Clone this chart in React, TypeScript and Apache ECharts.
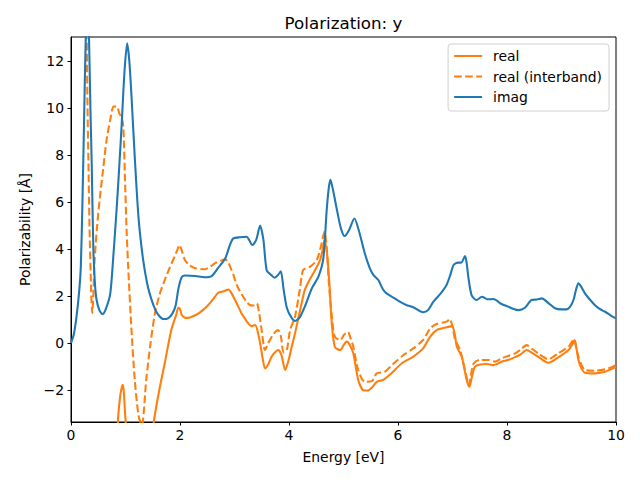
import React, { useEffect, useRef } from "react";
import * as echarts from "echarts";

const TITLE = "Polarization: y";
const X_NAME = "Energy [eV]";
const Y_NAME = "Polarizability [Å]";
const SERIES_NAMES = ["real", "real (interband)", "imag"];
const X_TICKS = [0, 2, 4, 6, 8, 10];
const Y_TICKS = [-2, 0, 2, 4, 6, 8, 10, 12];

const IMAG_E = [0, 0.05, 0.1, 0.15, 0.18, 0.21, 0.24, 0.26, 0.28, 0.3, 0.32, 0.34, 0.36, 0.38, 0.41, 0.44, 0.47, 0.52, 0.58, 0.64, 0.72, 0.78, 0.84, 0.88, 0.93, 0.98, 1.03, 1.07, 1.11, 1.17, 1.24, 1.32, 1.4, 1.47, 1.55, 1.62, 1.69, 1.78, 1.86, 1.92, 1.97, 2.03, 2.1, 2.28, 2.45, 2.58, 2.7, 2.83, 2.92, 2.98, 3.1, 3.22, 3.33, 3.4, 3.47, 3.53, 3.59, 3.67, 3.74, 3.8, 3.85, 3.9, 3.96, 4.04, 4.11, 4.2, 4.29, 4.42, 4.54, 4.63, 4.69, 4.73, 4.76, 4.8, 4.88, 4.95, 5.02, 5.1, 5.2, 5.28, 5.39, 5.48, 5.55, 5.64, 5.72, 5.79, 5.94, 6.04, 6.15, 6.28, 6.46, 6.55, 6.65, 6.78, 6.89, 6.96, 7.02, 7.1, 7.16, 7.23, 7.26, 7.29, 7.35, 7.44, 7.54, 7.64, 7.75, 7.9, 8.02, 8.12, 8.21, 8.33, 8.45, 8.55, 8.64, 8.76, 8.88, 9.0, 9.09, 9.16, 9.22, 9.27, 9.31, 9.36, 9.43, 9.52, 9.61, 9.7, 9.8, 9.9, 10.0];
const IMAG_V = [0, 0.35, 1.1, 2.2, 3.25, 6.0, 9.5, 11.9, 13.8, 15, 14, 11.9, 9.6, 7.66, 4.0, 2.5, 1.83, 1.4, 1.23, 1.45, 2.1, 3.8, 5.8, 7.3, 9.3, 11.5, 12.75, 12.0, 10.5, 7.9, 5.3, 3.6, 2.5, 1.9, 1.4, 1.15, 1.02, 1.05, 1.25, 1.6, 2.3, 2.8, 2.87, 2.85, 2.8, 2.85, 3.2, 3.6, 4.2, 4.45, 4.5, 4.52, 4.17, 4.4, 5.0, 4.4, 3.1, 2.9, 2.78, 2.9, 3.05, 2.3, 1.5, 1.1, 0.94, 1.1, 1.55, 2.33, 2.82, 3.6, 5.6, 6.6, 6.95, 6.6, 5.66, 4.9, 4.55, 4.8, 5.3, 4.8, 3.82, 3.2, 2.89, 2.68, 2.3, 2.11, 1.9, 1.75, 1.62, 1.52, 1.31, 1.4, 1.76, 2.1, 2.47, 2.9, 3.32, 3.42, 3.42, 3.7, 3.4, 2.82, 2.04, 1.83, 1.97, 1.86, 1.87, 1.66, 1.55, 1.45, 1.4, 1.5, 1.83, 1.85, 1.9, 1.7, 1.48, 1.43, 1.43, 1.55, 1.83, 2.3, 2.54, 2.4, 2.11, 1.85, 1.62, 1.45, 1.33, 1.18, 1.05];

const REAL_E = [0.8, 0.86, 0.9, 0.93, 0.95, 0.97, 0.99, 1.01, 1.05, 1.2, 1.4, 1.52, 1.62, 1.72, 1.84, 1.93, 1.97, 2.0, 2.03, 2.09, 2.15, 2.25, 2.34, 2.43, 2.52, 2.62, 2.7, 2.8, 2.89, 2.95, 3.01, 3.07, 3.13, 3.19, 3.25, 3.31, 3.38, 3.43, 3.47, 3.52, 3.56, 3.62, 3.68, 3.74, 3.8, 3.86, 3.93, 3.99, 4.05, 4.11, 4.2, 4.29, 4.38, 4.48, 4.57, 4.62, 4.65, 4.68, 4.71, 4.75, 4.78, 4.84, 4.94, 5.0, 5.06, 5.12, 5.18, 5.27, 5.36, 5.45, 5.52, 5.61, 5.73, 5.88, 6.07, 6.28, 6.46, 6.59, 6.71, 6.89, 6.99, 7.04, 7.08, 7.17, 7.26, 7.31, 7.36, 7.41, 7.5, 7.63, 7.75, 7.9, 8.02, 8.15, 8.25, 8.36, 8.46, 8.57, 8.76, 8.94, 9.13, 9.2, 9.24, 9.28, 9.31, 9.37, 9.43, 9.61, 9.8, 9.9, 10.0];
const REAL_V = [-7, -3.35, -2.3, -1.9, -1.78, -2.1, -2.9, -3.6, -6, -10, -6, -3.35, -2.0, -0.86, 0.55, 1.2, 1.5, 1.45, 1.2, 1.08, 1.07, 1.15, 1.26, 1.42, 1.62, 1.9, 2.14, 2.2, 2.28, 2.1, 1.83, 1.55, 1.26, 1.05, 0.84, 0.72, 0.77, 0.45, -0.01, -0.7, -1.08, -0.9, -0.58, -0.4, -0.3, -0.5, -1.15, -0.75, -0.16, 0.41, 1.35, 2.26, 2.7, 3.11, 3.53, 4.0, 4.38, 4.1, 3.53, 2.2, 0.98, -0.16, -0.3, -0.1, 0.06, -0.1, -0.44, -1.57, -2.0, -2.02, -1.9, -1.65, -1.57, -1.29, -0.86, -0.58, -0.23, 0.27, 0.55, 0.67, 0.72, 0.4, -0.16, -0.58, -1.57, -1.86, -1.4, -1.01, -0.91, -0.89, -0.94, -0.8, -0.72, -0.6, -0.48, -0.3, -0.42, -0.58, -0.84, -0.61, -0.3, -0.05, 0.13, -0.3, -0.72, -1.1, -1.26, -1.29, -1.22, -1.12, -1.01];

const INTER_E = [0, 0.1, 0.2, 0.25, 0.28, 0.3, 0.32, 0.34, 0.37, 0.39, 0.41, 0.43, 0.48, 0.53, 0.59, 0.65, 0.72, 0.78, 0.84, 0.89, 0.93, 0.96, 0.99, 1.02, 1.05, 1.11, 1.17, 1.24, 1.3, 1.38, 1.46, 1.54, 1.63, 1.72, 1.81, 1.9, 1.95, 1.99, 2.03, 2.09, 2.18, 2.28, 2.46, 2.64, 2.75, 2.83, 2.88, 2.92, 2.98, 3.04, 3.1, 3.16, 3.22, 3.28, 3.35, 3.41, 3.45, 3.49, 3.56, 3.6, 3.65, 3.72, 3.8, 3.85, 3.9, 3.96, 4.02, 4.11, 4.2, 4.26, 4.39, 4.51, 4.6, 4.65, 4.69, 4.73, 4.78, 4.84, 4.94, 5.01, 5.08, 5.13, 5.18, 5.27, 5.39, 5.52, 5.61, 5.76, 5.91, 6.1, 6.28, 6.46, 6.59, 6.71, 6.89, 6.95, 7.0, 7.05, 7.14, 7.23, 7.3, 7.35, 7.39, 7.5, 7.66, 7.78, 7.9, 8.02, 8.15, 8.25, 8.36, 8.46, 8.57, 8.76, 8.94, 9.13, 9.19, 9.23, 9.27, 9.31, 9.37, 9.43, 9.61, 9.8, 9.9, 10.0];
const INTER_V = [15, 15.5, 17, 19, 15, 10.5, 7.7, 4.9, 2.2, 1.28, 2.0, 3.4, 5.0, 6.2, 7.4, 8.6, 9.5, 10.06, 10.06, 9.75, 9.6, 9.2, 7.0, 4.8, 3.2, 0.55, -1.57, -3.1, -3.5, -1.57, 0.0, 1.26, 2.1, 2.68, 3.2, 3.67, 3.95, 4.17, 3.95, 3.53, 3.3, 3.18, 3.14, 3.39, 3.5, 3.56, 3.45, 3.25, 2.9, 2.47, 2.2, 1.97, 1.75, 1.62, 1.6, 1.69, 1.3, 0.69, -0.3, -0.1, 0.13, 0.4, 0.55, 0.3, -0.4, -0.3, 0.55, 1.12, 2.3, 3.1, 3.25, 3.53, 4.24, 4.74, 4.1, 2.6, 1.26, 0.27, 0.13, 0.35, 0.48, 0.2, -0.16, -1.15, -1.65, -1.62, -1.29, -1.22, -0.89, -0.51, -0.23, 0.13, 0.62, 0.81, 0.91, 1.02, 0.7, 0.13, -0.3, -1.15, -1.79, -1.2, -0.86, -0.72, -0.72, -0.79, -0.65, -0.55, -0.44, -0.28, -0.09, -0.25, -0.44, -0.69, -0.44, -0.16, 0.05, 0.16, -0.2, -0.58, -0.95, -1.15, -1.18, -1.12, -1.05, -0.94];

const zip = (xs: number[], ys: number[]) => xs.map((x, i) => [x, ys[i]]);
const FONT = "DejaVu Sans";
const fmt = (v: number) => (v < 0 ? "\u2212" + Math.abs(v) : String(v));

export default function App() {
  const ref = useRef<HTMLDivElement>(null);
  useEffect(() => {
    const chart = echarts.init(ref.current!, null, { renderer: "svg" });
    const lineBase = { type: "line", showSymbol: false, symbol: "none", smooth: 0.25, clip: true };
    chart.setOption({
      animation: false,
      backgroundColor: "#ffffff",
      textStyle: { fontFamily: FONT },
      grid: { left: 71, right: 24, top: 37, bottom: 58, containLabel: false, outerBoundsMode: "none", show: true, borderColor: "#000", borderWidth: 1, backgroundColor: "transparent" },
      xAxis: {
        type: "value", min: 0, max: 10, interval: 2,
        axisLine: { show: true, onZero: false, lineStyle: { color: "#000", width: 1 } },
        axisTick: { show: true, length: 3.5, lineStyle: { color: "#000", width: 1 }, customValues: X_TICKS },
        axisLabel: { color: "#000", fontSize: 13.9, fontFamily: FONT, margin: 6, customValues: X_TICKS, formatter: (v: number) => fmt(v) },
        splitLine: { show: false },
      },
      yAxis: {
        type: "value", min: -3.36, max: 13.02,
        axisLine: { show: true, onZero: false, lineStyle: { color: "#000", width: 1 } },
        axisTick: { show: true, length: 3.5, lineStyle: { color: "#000", width: 1 }, customValues: Y_TICKS },
        axisLabel: { color: "#000", fontSize: 13.9, fontFamily: FONT, margin: 7, customValues: Y_TICKS, formatter: (v: number) => fmt(v) },
        splitLine: { show: false },
      },
      legend: {
        orient: "vertical", right: 31, top: 44,
        data: SERIES_NAMES,
        itemWidth: 28, itemHeight: 14, itemGap: 6.5,
        padding: [5, 7, 7, 5],
        backgroundColor: "rgba(255,255,255,0.8)",
        borderColor: "#d0d0d0", borderWidth: 1, borderRadius: 3,
        itemStyle: { opacity: 0, borderWidth: 0 },
        textStyle: { color: "#000", fontSize: 13.9, fontFamily: FONT, padding: [0, 0, 0, 6] },
        selectedMode: false,
      },
      graphic: [
        { type: "text", x: 343.5, y: 23, style: { text: TITLE, fill: "#000", font: `16.7px '${FONT}'`, textAlign: "center", textVerticalAlign: "middle" } },
        { type: "text", x: 343.5, y: 457, style: { text: X_NAME, fill: "#000", font: `13.9px '${FONT}'`, textAlign: "center", textVerticalAlign: "middle" } },
        { type: "text", x: 25, y: 229.5, rotation: Math.PI / 2, style: { text: Y_NAME, fill: "#000", font: `13.9px '${FONT}'`, textAlign: "center", textVerticalAlign: "middle" } },
      ],
      series: [
        { ...lineBase, name: SERIES_NAMES[0], data: zip(REAL_E, REAL_V), color: "#ff7f0e", lineStyle: { color: "#ff7f0e", width: 2.08 } },
        { ...lineBase, name: SERIES_NAMES[1], data: zip(INTER_E, INTER_V), color: "#ff7f0e", lineStyle: { color: "#ff7f0e", width: 2.08, type: [7.7, 3.3] } },
        { ...lineBase, name: SERIES_NAMES[2], data: zip(IMAG_E, IMAG_V), color: "#1f77b4", lineStyle: { color: "#1f77b4", width: 2.08 } },
      ],
    });
    return () => chart.dispose();
  }, []);
  return <div ref={ref} style={{ position: "fixed", left: 0, top: 0, width: 640, height: 480, background: "#fff" }} />;
}
